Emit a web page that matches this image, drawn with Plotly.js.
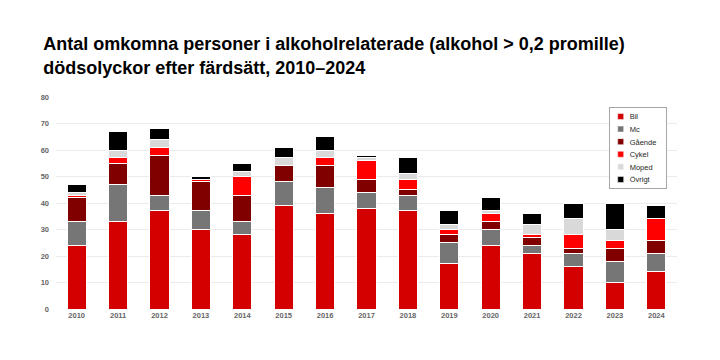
<!DOCTYPE html>
<html>
<head>
<meta charset="utf-8">
<script src="https://cdn.plot.ly/plotly-3.0.1.min.js"></script>
<style>html,body{margin:0;padding:0;background:#fff;}#chart{width:720px;height:360px;}</style>
</head>
<body>
<div id="chart"></div>
<script>
const years = ["2010","2011","2012","2013","2014","2015","2016","2017","2018","2019","2020","2021","2022","2023","2024"];
const bil     = [24, 33, 37, 30, 28, 39, 36, 38, 37, 17, 24, 21, 16, 10, 14];
const mc      = [ 9, 14,  6,  7,  5,  9, 10,  6,  6,  8,  6,  3,  5,  8,  7];
const gaende  = [ 9,  8, 15, 11, 10,  6,  8,  5,  2,  3,  3,  3,  2,  5,  5];
const cykel   = [ 1,  2,  3,  1,  7,  0,  3,  7,  4,  2,  3,  1,  5,  3,  8];
const moped   = [ 1,  3,  3,  0,  2,  3,  3,  1,  2,  2,  1,  4,  6,  4,  0];
const ovrigt  = [ 3,  7,  4,  1,  3,  4,  5,  1,  6,  5,  5,  4,  6, 10,  5];

const seriesNames = ["Bil", "Mc", "Gående", "Cykel", "Moped", "Övrigt"];
const seriesData = [bil, mc, gaende, cykel, moped, ovrigt];
const seriesColors = ["#d40000", "#767676", "#800000", "#ff0000", "#d9d9d9", "#000000"];

const traces = seriesNames.map((name, i) => ({
  type: "bar",
  name: name,
  x: years,
  y: seriesData[i],
  marker: { color: seriesColors[i], line: { color: "#ffffff", width: 1 } },
  hoverinfo: "x+y+name"
}));

const layout = {
  width: 720,
  height: 360,
  barmode: "stack",
  bargap: 0.54,
  paper_bgcolor: "#ffffff",
  plot_bgcolor: "#ffffff",
  margin: { l: 56, r: 43, t: 97, b: 51 },
  font: { family: "Arial, 'Liberation Sans', sans-serif", color: "#666666" },
  title: {
    text: "Antal omkomna personer i alkoholrelaterade (alkohol > 0,2 promille)<br>dödsolyckor efter färdsätt, 2010–2024",
    font: { family: "Arial, 'Liberation Sans', sans-serif", size: 18, color: "#000000", weight: "bold" },
    xref: "container", x: 0.06, xanchor: "left",
    yref: "container", y: 0.86, yanchor: "top"
  },
  xaxis: {
    type: "category",
    tickfont: { size: 7.5, color: "#666666", weight: "bold" },
    showgrid: false, zeroline: false, showline: false,
    ticks: "", ticklen: 0
  },
  yaxis: {
    range: [0, 80],
    dtick: 10,
    tickfont: { size: 7.5, color: "#666666", weight: "bold" },
    showgrid: true, gridcolor: "#ebebeb", gridwidth: 1,
    zeroline: false, showline: false, ticks: "",
    ticklabelstandoff: 6
  },
  legend: {
    x: 0.89, xanchor: "left", y: 0.953, yanchor: "top",
    traceorder: "normal",
    bgcolor: "#ffffff", bordercolor: "#a6a6a6", borderwidth: 1,
    font: { size: 7.5, color: "#262626" },
    itemwidth: 30
  },
  showlegend: true
};

Plotly.newPlot("chart", traces, layout, { displayModeBar: false, staticPlot: true }).then(() => {
  // compact the legend rows (tighter spacing and smaller swatches)
  const leg = document.querySelector("#chart .legend");
  if (!leg) return;
  const items = Array.from(leg.querySelectorAll("g.traces"));
  if (!items.length) return;
  const parse = g => {
    const m = (g.getAttribute("transform") || "").match(/translate\(\s*([-\d.e]+)[ ,]+([-\d.e]+)\s*\)/);
    return m ? [parseFloat(m[1]), parseFloat(m[2])] : [0, 0];
  };
  const first = parse(items[0]);
  const rowH = 12.6;
  const oldStep = items.length > 1 ? parse(items[1])[1] - first[1] : rowH;
  items.forEach((g, i) => {
    const p = parse(g);
    g.setAttribute("transform", "translate(" + p[0] + "," + (first[1] - 6 + i * rowH) + ")");
    g.querySelectorAll(".legendpoints path").forEach(pth => {
      pth.setAttribute("transform", "translate(" + 11 + ",0) scale(0.5)");
    });
    g.querySelectorAll(".legendtext").forEach(t => {
      t.setAttribute("x", parseFloat(t.getAttribute("x") || 0) - 20);
    });
  });
  const shrink = (oldStep - rowH) * items.length + 6;
  leg.querySelectorAll("rect.bg").forEach(r => {
    const h = parseFloat(r.getAttribute("height"));
    r.setAttribute("height", h - shrink);
    const w = parseFloat(r.getAttribute("width"));
    r.setAttribute("width", w - 16);
  });
});
</script>
</body>
</html>
